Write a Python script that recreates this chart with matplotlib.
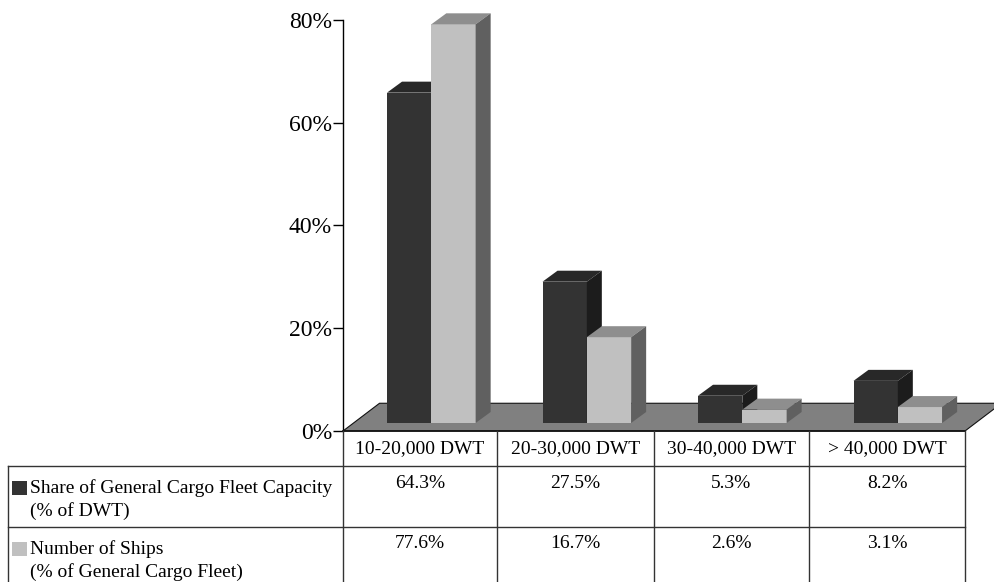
import matplotlib
matplotlib.use("Agg")
import matplotlib.pyplot as plt
from matplotlib.patches import Polygon, Rectangle
from matplotlib.lines import Line2D

plt.rcParams['font.family'] = ['Liberation Serif', 'DejaVu Serif']

# data
categories = ['10-20,000 DWT', '20-30,000 DWT', '30-40,000 DWT', '> 40,000 DWT']
capacity_share = [64.3, 27.5, 5.3, 8.2]
ship_share = [77.6, 16.7, 2.6, 3.1]
series_labels = ['Share of General Cargo Fleet Capacity\n(% of DWT)',
                 'Number of Ships\n(% of General Cargo Fleet)']
yticks = [0, 20, 40, 60, 80]

# colours for front / top / side faces
dark = ('#333333', '#282828', '#1c1c1c')
light = ('#c0c0c0', '#8e8e8e', '#606060')

W, H = 995, 582
fig = plt.figure(figsize=(W / 100, H / 100), dpi=100)

# main axes in pixel layout terms: x 343..965, y 431 (0%) .. 20 (80%)
ax = fig.add_axes([343 / W, (H - 431) / H, 622 / W, 411 / H])
ax.set_xlim(0, 4)
ax.set_ylim(0, 80)
for s in ['top', 'right', 'bottom']:
    ax.spines[s].set_visible(False)
ax.spines['left'].set_linewidth(1.0)
ax.set_xticks([])
ax.set_yticks(yticks)
ax.set_yticklabels([f'{t}%' for t in yticks], fontsize=17)
ax.tick_params(axis='y', length=7, width=1, pad=1)

# floor (3D look)
fdx, fdy = 0.235, 5.4
floor = Polygon([(0, 0), (4, 0), (4 + fdx, fdy), (0 + fdx, fdy)], closed=True,
                facecolor='#808080', edgecolor='#111111', lw=0.8, clip_on=False, zorder=1)
ax.add_patch(floor)

base = 1.56      # bars stand in the middle of the floor depth
bw = 0.285       # bar width in category units
ddx, ddy = 0.0965, 2.14  # bar depth


def bar3d(x0, h, cols):
    x1 = x0 + bw
    b, t = base, base + h
    front, top, side = cols
    ax.add_patch(Rectangle((x0, b), bw, h, facecolor=front, edgecolor='none',
                           clip_on=False, zorder=3))
    ax.add_patch(Polygon([(x0, t), (x1, t), (x1 + ddx, t + ddy), (x0 + ddx, t + ddy)],
                         facecolor=top, edgecolor='none', clip_on=False, zorder=3))
    ax.add_patch(Polygon([(x1, b), (x1 + ddx, b + ddy), (x1 + ddx, t + ddy), (x1, t)],
                         facecolor=side, edgecolor='none', clip_on=False, zorder=3))


for i in range(len(categories)):
    bar3d(i + 0.283, capacity_share[i], dark)
    bar3d(i + 0.283 + bw, ship_share[i], light)

# data table below the chart, drawn on an overlay axes in pixel units
tab = fig.add_axes([0, 0, 1, 1], facecolor='none')
tab.set_xlim(0, W)
tab.set_ylim(H, 0)
tab.axis('off')

col_edges = [343, 497, 654, 809, 965]
lc = '#333333'
tab.add_line(Line2D([343, 965], [431, 431], color='#111111', lw=1.2))
for y in [466, 527]:
    tab.add_line(Line2D([8, 965], [y, y], color=lc, lw=1.0))
tab.add_line(Line2D([8, 8], [466, H], color=lc, lw=1.0))
for x in col_edges:
    tab.add_line(Line2D([x, x], [431, H], color=lc, lw=1.0))

for i, cat in enumerate(categories):
    cx = (col_edges[i] + col_edges[i + 1]) / 2
    tab.text(cx, 449, cat, ha='center', va='center', fontsize=14)
    tab.text(cx, 483, f'{capacity_share[i]}%', ha='center', va='center', fontsize=14)
    tab.text(cx, 544, f'{ship_share[i]}%', ha='center', va='center', fontsize=14)

for yc, lab, col in [(488, series_labels[0], dark[0]), (549, series_labels[1], light[0])]:
    tab.add_patch(Rectangle((12, yc - 7), 15, 14, facecolor=col, edgecolor='none'))
    for k, line in enumerate(lab.split('\n')):
        tab.text(30, yc + 23 * k, line, ha='left', va='center', fontsize=14)

fig.savefig('out.png', dpi=100)
